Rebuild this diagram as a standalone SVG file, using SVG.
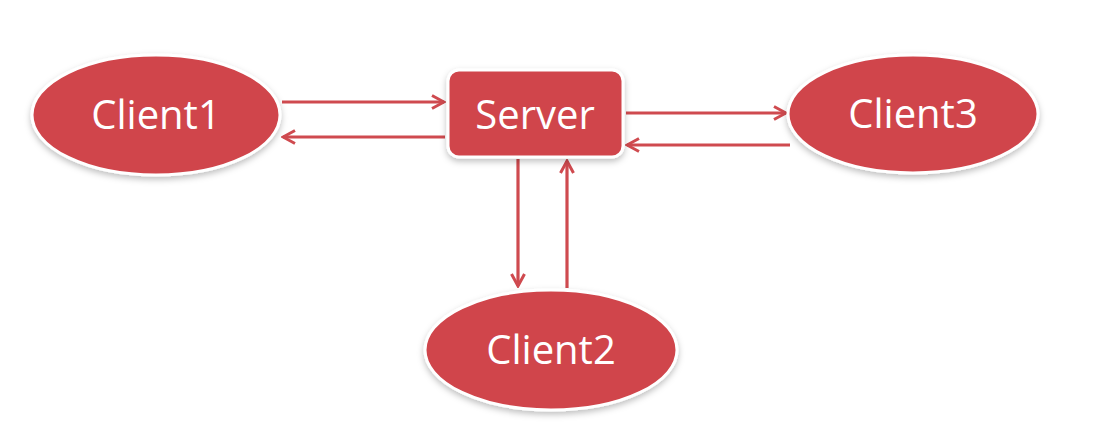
<svg xmlns="http://www.w3.org/2000/svg" width="1108" height="433" viewBox="0 0 1108 433">
<style>
.node{fill:#d0454b;stroke:#ffffff;stroke-width:3;filter:url(#sh)}
.lbl{font-family:"Open Sans","Liberation Sans",sans-serif;font-size:40px;fill:#ffffff;text-anchor:middle;dominant-baseline:central}
.conn{stroke:#cf4a4f;stroke-width:3.2;fill:none;marker-end:url(#ah)}
</style>
<defs>
<filter id="sh" x="-20%" y="-20%" width="140%" height="150%">
<feDropShadow dx="0" dy="3" stdDeviation="3" flood-color="#000000" flood-opacity="0.25"/>
</filter>
<marker id="ah" viewBox="0 0 16 16" refX="14" refY="8" markerWidth="16" markerHeight="16" markerUnits="userSpaceOnUse" orient="auto">
<path d="M2,1.5 L14,8 L2,14.5" fill="none" stroke="#cf4a4f" stroke-width="3"/>
</marker>
</defs>
<rect width="1108" height="433" fill="#ffffff"/>
<g id="connectors">
<line class="conn" x1="282" y1="102" x2="444" y2="102"/>
<line class="conn" x1="445" y1="137" x2="283" y2="137"/>
<line class="conn" x1="626" y1="113" x2="786" y2="113"/>
<line class="conn" x1="790" y1="145" x2="627" y2="145"/>
<line class="conn" x1="518" y1="159" x2="518" y2="286"/>
<line class="conn" x1="567" y1="288" x2="567" y2="161"/>
</g>
<g id="client1">
<ellipse class="node" cx="156" cy="115" rx="124" ry="60"/>
<text class="lbl" x="156" y="113">Client1</text>
</g>
<g id="server">
<rect class="node" x="448" y="70" width="175" height="87" rx="11"/>
<text class="lbl" x="535" y="113">Server</text>
</g>
<g id="client3">
<ellipse class="node" cx="913" cy="114" rx="125" ry="59"/>
<text class="lbl" x="913" y="112">Client3</text>
</g>
<g id="client2">
<ellipse class="node" cx="551" cy="350" rx="126" ry="60"/>
<text class="lbl" x="551" y="348">Client2</text>
</g>
</svg>
